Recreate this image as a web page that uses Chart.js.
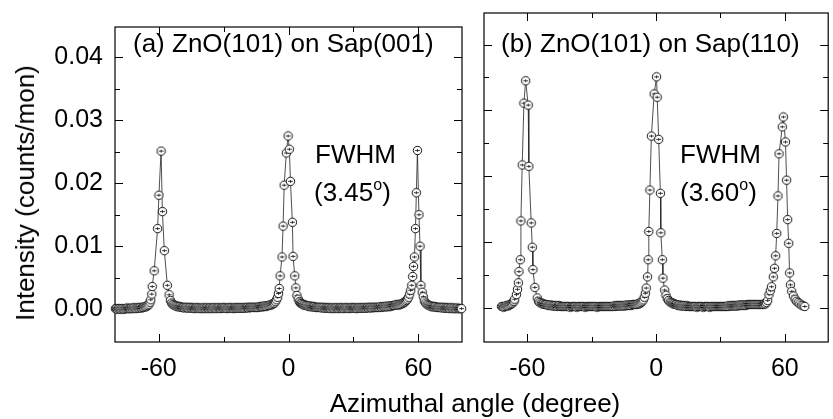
<!DOCTYPE html>
<html>
<head>
<meta charset="utf-8">
<script src="https://cdn.jsdelivr.net/npm/chart.js@4"></script>
<style>
  html, body { margin: 0; padding: 0; background: #fff; }
  body { width: 833px; height: 419px; overflow: hidden; position: relative;
         font-family: "Liberation Sans", Arial, Helvetica, sans-serif; color: #000; }
  #ca { position: absolute; left: 0; top: 0; }
  #cb { position: absolute; left: 470px; top: 0; }
  .t { position: absolute; font-size: 26px; line-height: 26px; white-space: nowrap; }
  .sup { font-size: 16px; position: relative; top: -11px; }
</style>
</head>
<body>
<canvas id="ca" width="470" height="419"></canvas>
<canvas id="cb" width="363" height="419"></canvas>

<div class="t" style="left:133px; top:30px;">(a) ZnO(101) on Sap(001)</div>
<div class="t" style="left:501px; top:30px;">(b) ZnO(101) on Sap(110)</div>
<div class="t" style="left:315px; top:141px;">FWHM</div>
<div class="t" style="left:314px; top:179px;">(3.45<span class="sup">o</span>)</div>
<div class="t" style="left:680px; top:141px;">FWHM</div>
<div class="t" style="left:680px; top:179px;">(3.60<span class="sup">o</span>)</div>
<div class="t" style="left:25px; top:193px; transform: translate(-50%,-50%) rotate(-90deg);">Intensity (counts/mon)</div>
<div class="t" style="left:475px; top:390px; transform: translateX(-50%);">Azimuthal angle (degree)</div>

<script>
// ---------------- data ----------------
// panel (a): ZnO(101) on Sap(001)
const angleA = [
  -80,-79.5,-79,-78.5,-78,-77.5,-77,-76.5,-76,-75.5,-75,-74.5,-74,-73.5,-73,-72.5,-72,-71.5,-71,-70.5,
  -70,-69.5,-69,-68.5,-68,-67.5,-67,-66.5,-66,
  -65.5,-65,-64.5,-64,-63.7,-63.2,-63.0,-62.1,-60.5,-59.9,-58.9,-58.3,-57.4,-56.0,-55.2,-54.6,-54.0,-53.5,-53,-52.5,-52,-51.5,-51,-50.5,-50,
  -49.5,-49,-48.5,-48,-47.5,-47,-46.5,-46,-45.5,-45,
  -44.5,-44,-43.5,-43,-42.5,-42,-41.5,-41,-40.5,-40,
  -39.5,-39,-38.5,-38,-37.5,-37,-36.5,-36,-35.5,-35,
  -34.5,-34,-33.5,-33,-32.5,-32,-31.5,-31,-30.5,-30,
  -29.5,-29,-28.5,-28,-27.5,-27,-26.5,-26,-25.5,-25,
  -24.5,-24,-23.5,-23,-22.5,-22,-21.5,-21,-20.5,-20,
  -19.5,-19,-18.5,-18,-17.5,-17,-16.5,-16,-15.5,-15,
  -14.5,-14,-13.5,-13,-12.5,-12,-11.5,-11,-10.5,-10,
  -9.5,
  -9,-8.5,-8,-7.5,-7,-6.5,-6,-5.5,-5,-4.6,-4.3,-3.9,-3.0,-2.5,-2.0,-1.0,-0.2,0.4,0.9,1.8,2.1,2.9,3.4,3.9,4.5,5,5.5,6,6.5,7,7.5,8,8.5,9,9.5,
  10,10.5,11,11.5,12,12.5,13,13.5,14,14.5,
  15,15.5,16,16.5,17,17.5,18,18.5,19,19.5,
  20,20.5,21,21.5,22,22.5,23,23.5,24,24.5,
  25,25.5,26,26.5,27,27.5,28,28.5,29,29.5,
  30,30.5,31,31.5,32,32.5,33,33.5,34,34.5,
  35,35.5,36,36.5,37,37.5,38,38.5,39,39.5,
  40,40.5,41,41.5,42,42.5,43,43.5,44,44.5,
  45,45.5,46,46.5,47,47.5,48,48.5,49,49.5,
  50,50.5,
  51,51.5,52,52.5,53,53.5,54,54.5,55,55.5,56.0,56.5,57.0,57.4,57.8,58.2,58.7,59.1,59.6,60.3,60.8,61.2,61.8,62.3,62.8,63.4,64,64.5,65,65.5,
  66,66.5,67,67.5,68,68.5,69,69.5,70,70.5,71,71.5,72,72.5,73,73.5,74,74.5,75,75.5,76,76.5,77,77.5,78,78.5,79,79.5,80
];
const intensityA = [
  0.0001,0.0001,0.0000,0.0001,0.0001,0.0000,0.0001,0.0001,0.0000,0.0001,0.0001,0.0002,0.0001,0.0001,0.0001,0.0002,0.0001,0.0002,0.0002,0.0001,
  0.0002,0.0002,0.0002,0.0003,0.0002,0.0003,0.0003,0.0004,0.0004,
  0.0005,0.0006,0.0008,0.0011,0.0015,0.0024,0.0036,0.0061,0.0128,0.0181,0.0251,0.0155,0.0093,0.0038,0.0023,0.0014,0.0010,0.0008,0.0007,0.0006,0.0005,0.0005,0.0004,0.0004,0.0004,
  0.0003,0.0003,0.0003,0.0002,0.0003,0.0003,0.0002,0.0002,0.0003,0.0002,
  0.0002,0.0002,0.0001,0.0002,0.0002,0.0002,0.0002,0.0001,0.0002,0.0001,
  0.0002,0.0002,0.0001,0.0002,0.0002,0.0001,0.0002,0.0002,0.0001,0.0002,
  0.0002,0.0002,0.0001,0.0002,0.0002,0.0002,0.0001,0.0002,0.0002,0.0002,
  0.0002,0.0002,0.0001,0.0002,0.0002,0.0002,0.0002,0.0002,0.0001,0.0002,
  0.0002,0.0002,0.0002,0.0002,0.0002,0.0002,0.0002,0.0002,0.0002,0.0002,
  0.0003,0.0003,0.0002,0.0003,0.0003,0.0003,0.0003,0.0003,0.0003,0.0003,
  0.0003,0.0003,0.0004,0.0004,0.0004,0.0004,0.0005,0.0005,0.0005,0.0005,
  0.0006,
  0.0006,0.0007,0.0007,0.0008,0.0009,0.0010,0.0012,0.0015,0.0019,0.0025,0.0033,0.0053,0.0083,0.0132,0.0197,0.0248,0.0275,0.0254,0.0203,0.0138,0.0084,0.0053,0.0034,0.0022,0.0016,0.0012,0.0010,0.0009,0.0008,0.0007,0.0007,0.0006,0.0006,0.0005,0.0005,
  0.0005,0.0004,0.0004,0.0004,0.0004,0.0003,0.0003,0.0003,0.0003,0.0003,
  0.0003,0.0002,0.0003,0.0002,0.0002,0.0002,0.0002,0.0002,0.0002,0.0001,
  0.0002,0.0002,0.0001,0.0002,0.0002,0.0002,0.0001,0.0002,0.0002,0.0002,
  0.0002,0.0001,0.0002,0.0002,0.0002,0.0002,0.0001,0.0002,0.0002,0.0002,
  0.0002,0.0002,0.0002,0.0001,0.0002,0.0002,0.0002,0.0002,0.0002,0.0002,
  0.0002,0.0002,0.0002,0.0003,0.0002,0.0003,0.0003,0.0002,0.0003,0.0003,
  0.0003,0.0003,0.0003,0.0003,0.0003,0.0004,0.0003,0.0004,0.0004,0.0004,
  0.0004,0.0005,0.0004,0.0005,0.0005,0.0005,0.0006,0.0006,0.0006,0.0007,
  0.0007,0.0007,
  0.0007,0.0008,0.0008,0.0009,0.0010,0.0011,0.0012,0.0014,0.0016,0.0019,0.0024,0.0030,0.0038,0.0052,0.0068,0.0083,0.0128,0.0185,0.0252,0.0150,0.0100,0.0038,0.0027,0.0020,0.0013,0.0010,0.0008,0.0007,0.0006,0.0005,
  0.0005,0.0004,0.0004,0.0004,0.0004,0.0003,0.0003,0.0003,0.0003,0.0003,0.0002,0.0003,0.0002,0.0002,0.0002,0.0002,0.0002,0.0001,0.0002,0.0002,0.0001,0.0002,0.0001,0.0001,0.0002,0.0001,0.0001,0.0001,0.0001
];
// panel (b): ZnO(101) on Sap(110)
const angleB = [
  -72,-71.5,-71,-70.5,-70,-69.5,-69,-68.5,-68,-67.5,-67,-66.5,
  -66.2,-65.9,-65.1,-64.6,-64.2,-63.9,-63.3,-63.0,-62.4,-61.6,-60.8,-59.6,-59.3,-58.2,-57.7,-57.4,-56.5,-55.4,-54.8,-54.2,-53.5,-53,-52.5,-52,-51.5,-51,-50.5,-50,
  -49.5,-49,-48.5,-48,-47.5,-47,-46.5,-46,-45.5,-45,
  -44.5,-44,-43.5,-43,-42.5,-42,-41.5,-41,-40.5,-40,
  -39.5,-39,-38.5,-38,-37.5,-37,-36.5,-36,-35.5,-35,
  -34.5,-34,-33.5,-33,-32.5,-32,-31.5,-31,-30.5,-30,
  -29.5,-29,-28.5,-28,-27.5,-27,-26.5,-26,-25.5,-25,
  -24.5,-24,-23.5,-23,-22.5,-22,-21.5,-21,-20.5,-20,
  -19.5,-19,-18.5,-18,-17.5,-17,-16.5,-16,-15.5,-15,
  -14.5,-14,-13.5,-13,-12.5,-12,-11.5,-11,-10.5,-10,
  -9.5,
  -9,-8.5,-8,-7.5,-7,-6.5,-6,-5.5,-5.0,-4.6,-4.0,-3.7,-3.4,-2.9,-2.2,-0.9,0.2,0.5,1.2,2.0,2.2,2.9,3.2,4.0,4.6,5.2,5.8,6.5,7,7.5,8,8.5,9,9.5,
  10,10.5,11,11.5,12,12.5,13,13.5,14,14.5,
  15,15.5,16,16.5,17,17.5,18,18.5,19,19.5,
  20,20.5,21,21.5,22,22.5,23,23.5,24,24.5,
  25,25.5,26,26.5,27,27.5,28,28.5,29,29.5,
  30,30.5,31,31.5,32,32.5,33,33.5,34,34.5,
  35,35.5,36,36.5,37,37.5,38,38.5,39,39.5,
  40,40.5,41,41.5,42,42.5,43,43.5,44,44.5,
  45,45.5,46,46.5,47,47.5,48,48.5,49,49.5,
  50,50.5,51,51.5,52,52.6,53.2,53.8,54.6,55.2,55.7,56.2,56.8,57.3,58.8,59.3,60.3,60.8,61.3,61.8,62.2,62.6,63.2,64,64.8,65.5,66.2,67,67.8,68.5,69.3
];
const intensityB = [
  0.0002,0.0002,0.0001,0.0002,0.0003,0.0003,0.0003,0.0004,0.0005,0.0006,0.0007,0.0009,
  0.0010,0.0013,0.0020,0.0028,0.0038,0.0055,0.0073,0.0132,0.0217,0.0311,0.0345,0.0308,0.0215,0.0129,0.0092,0.0058,0.0031,0.0015,0.0010,0.0008,0.0007,0.0006,0.0006,0.0005,0.0005,0.0005,0.0004,0.0004,
  0.0004,0.0004,0.0003,0.0003,0.0003,0.0003,0.0003,0.0002,0.0003,0.0003,
  0.0002,0.0002,0.0002,0.0002,0.0002,0.0002,0.0002,0.0002,0.0002,0.0001,
  0.0002,0.0002,0.0002,0.0002,0.0002,0.0001,0.0002,0.0002,0.0002,0.0002,
  0.0002,0.0002,0.0002,0.0001,0.0002,0.0002,0.0002,0.0002,0.0002,0.0002,
  0.0002,0.0002,0.0002,0.0002,0.0001,0.0002,0.0002,0.0002,0.0002,0.0002,
  0.0002,0.0002,0.0002,0.0002,0.0002,0.0002,0.0002,0.0002,0.0002,0.0002,
  0.0003,0.0002,0.0003,0.0003,0.0003,0.0003,0.0003,0.0003,0.0003,0.0003,
  0.0003,0.0004,0.0004,0.0004,0.0004,0.0004,0.0004,0.0005,0.0005,0.0005,
  0.0005,
  0.0005,0.0006,0.0006,0.0007,0.0008,0.0010,0.0012,0.0016,0.0022,0.0030,0.0047,0.0073,0.0116,0.0179,0.0261,0.0325,0.0351,0.0320,0.0256,0.0174,0.0114,0.0073,0.0045,0.0027,0.0019,0.0014,0.0011,0.0009,0.0008,0.0007,0.0006,0.0006,0.0005,0.0005,
  0.0004,0.0004,0.0004,0.0003,0.0003,0.0003,0.0003,0.0003,0.0002,0.0003,
  0.0002,0.0002,0.0002,0.0002,0.0002,0.0002,0.0002,0.0002,0.0001,0.0002,
  0.0002,0.0002,0.0002,0.0002,0.0001,0.0002,0.0002,0.0002,0.0002,0.0002,
  0.0001,0.0002,0.0002,0.0002,0.0002,0.0002,0.0002,0.0002,0.0002,0.0002,
  0.0002,0.0002,0.0002,0.0002,0.0002,0.0002,0.0002,0.0003,0.0002,0.0003,
  0.0003,0.0003,0.0003,0.0003,0.0003,0.0003,0.0003,0.0004,0.0004,0.0004,
  0.0004,0.0004,0.0004,0.0004,0.0004,0.0005,0.0005,0.0005,0.0005,0.0005,
  0.0005,0.0005,0.0005,0.0005,0.0005,0.0005,0.0005,0.0005,0.0005,0.0005,
  0.0005,0.0006,0.0006,0.0008,0.0011,0.0020,0.0026,0.0032,0.0047,0.0060,0.0079,0.0113,0.0170,0.0234,0.0275,0.0290,0.0252,0.0194,0.0134,0.0098,0.0053,0.0035,0.0025,0.0018,0.0013,0.0010,0.0008,0.0006,0.0004,0.0003,0.0002
];
const xMajorTicks = [-60, 0, 60];
const xMinorTicks = [-30, 30];
const yMajorTicks = [0, 0.01, 0.02, 0.03, 0.04];
const yMinorTicks = [0.005, 0.015, 0.025, 0.035];
const xRange = [-80.2, 80.2];
const yRange = [-0.0052, 0.0448];

// ---------------- rendering ----------------
function makeMarker() {
  const c = document.createElement('canvas');
  c.width = 11; c.height = 11;
  const g = c.getContext('2d');
  g.beginPath(); g.arc(5.5, 5.5, 4.2, 0, Math.PI * 2);
  g.fillStyle = '#fff'; g.fill();
  g.strokeStyle = '#111'; g.lineWidth = 1; g.stroke();
  g.beginPath(); g.moveTo(3, 5.5); g.lineTo(8, 5.5);
  g.moveTo(5.5, 4); g.lineTo(5.5, 7);
  g.lineWidth = 0.8; g.stroke();
  return c;
}
const marker = makeMarker();

const framePlugin = {
  id: 'frame',
  beforeDatasetsDraw(chart) {
    const { ctx, chartArea: a, scales } = chart;
    const xs = scales.x, ys = scales.y;
    ctx.save();
    ctx.strokeStyle = '#000';
    ctx.lineWidth = 1.2;
    ctx.strokeRect(a.left, a.top, a.right - a.left, a.bottom - a.top);
    ctx.lineWidth = 1;
    const seg = (x1, y1, x2, y2) => { ctx.beginPath(); ctx.moveTo(x1, y1); ctx.lineTo(x2, y2); ctx.stroke(); };
    const xt = (vals, len) => vals.forEach(v => {
      const p = Math.round(xs.getPixelForValue(v)) + 0.5;
      seg(p, a.bottom, p, a.bottom - len);
      seg(p, a.top, p, a.top + len);
    });
    const yt = (vals, len) => vals.forEach(v => {
      const p = Math.round(ys.getPixelForValue(v)) + 0.5;
      seg(a.left, p, a.left + len, p);
      seg(a.right, p, a.right - len, p);
    });
    xt(xMajorTicks, 8); xt(xMinorTicks, 5);
    yt(yMajorTicks, 8); yt(yMinorTicks, 5);
    ctx.restore();
  }
};

function makeChart(id, angles, values, showY, yWidth, padLeft, padRight) {
  const pts = angles.map((a, i) => ({ x: a, y: values[i] }));
  return new Chart(document.getElementById(id), {
    type: 'line',
    data: { datasets: [{
      data: pts,
      borderColor: '#222',
      borderWidth: 0.8,
      tension: 0,
      pointStyle: marker,
      pointRadius: 4,
      clip: false
    }]},
    options: {
      responsive: false,
      animation: false,
      devicePixelRatio: 1,
      layout: { padding: { left: padLeft, right: padRight, top: 13, bottom: 0 } },
      plugins: { legend: { display: false }, tooltip: { enabled: false } },
      scales: {
        x: {
          type: 'linear', min: xRange[0], max: xRange[1],
          grid: { display: false, drawTicks: false },
          border: { display: false },
          afterBuildTicks: s => { s.ticks = xMajorTicks.map(v => ({ value: v })); },
          afterFit: s => { s.height = 77; },
          ticks: {
            color: '#000', padding: 12, maxRotation: 0,
            font: { family: '"Liberation Sans", Arial, sans-serif', size: 25 },
            callback: v => String(v)
          }
        },
        y: {
          type: 'linear', min: yRange[0], max: yRange[1],
          display: showY,
          grid: { display: false, drawTicks: false },
          border: { display: false },
          afterBuildTicks: s => { s.ticks = yMajorTicks.map(v => ({ value: v })); },
          afterFit: s => { s.width = yWidth; },
          ticks: {
            color: '#000', padding: 12,
            font: { family: '"Liberation Sans", Arial, sans-serif', size: 25 },
            callback: v => Number(v).toFixed(2)
          }
        }
      }
    },
    plugins: [framePlugin]
  });
}

makeChart('ca', angleA, intensityA, true, 115, 0, 8);
makeChart('cb', angleB, intensityB, false, 0, 14, 1);
</script>
</body>
</html>
